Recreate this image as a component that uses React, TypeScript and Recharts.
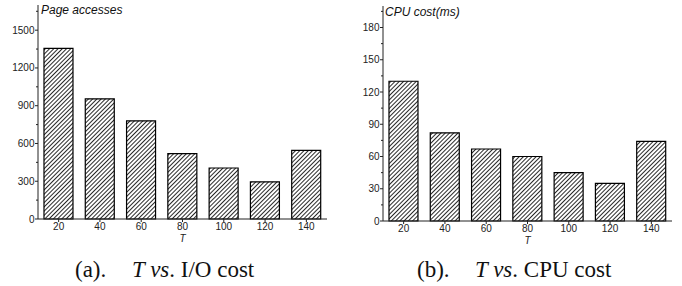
import React from 'react';
import { BarChart, Bar, XAxis, YAxis } from 'recharts';

const categories = ['20', '40', '60', '80', '100', '120', '140'];
const pageAccesses = [1355, 955, 780, 520, 405, 295, 545];
const cpuCost = [130, 82, 67, 60, 45, 35, 74];
const ioTicks = [0, 150, 300, 450, 600, 750, 900, 1050, 1200, 1350, 1500, 1650];
const cpuTicks = [0, 15, 30, 45, 60, 75, 90, 105, 120, 135, 150, 165, 180, 195];

const ioData = categories.map((c, i) => ({ t: c, v: pageAccesses[i] }));
const cpuData = categories.map((c, i) => ({ t: c, v: cpuCost[i] }));

const AXIS = '#222';
const SANS = '"Liberation Sans", Arial, sans-serif';
const SERIF = '"Liberation Serif", "Times New Roman", serif';

const makeYTick = (major: number) => (props: any) => {
  const { x, y, payload } = props;
  const isMajor = payload.value % major === 0;
  return (
    <g>
      <line x1={x} x2={x - (isMajor ? 3 : 2)} y1={y} y2={y} stroke={AXIS} strokeWidth={1} />
      {isMajor && (
        <text x={x - 3.5} y={y} dy="0.35em" textAnchor="end" fontSize={10} fontFamily={SANS} fill="#222">
          {payload.value}
        </text>
      )}
    </g>
  );
};

const Hatch = ({ id }: { id: string }) => (
  <defs>
    <pattern id={id} patternUnits="userSpaceOnUse" width={3} height={3} patternTransform="rotate(45)">
      <rect width={3} height={3} fill="#fff" />
      <line x1={0.5} y1={0} x2={0.5} y2={3} stroke="#111" strokeWidth={0.9} />
    </pattern>
  </defs>
);

const Panel = ({ data, domain, ticks, major, id, margin }: any) => (
  <BarChart width={margin.w} height={250} data={data} margin={margin.m} barCategoryGap="14.5%">
    <Hatch id={id} />
    <XAxis
      dataKey="t"
      height={24}
      interval={0}
      tickSize={3}
      tickMargin={1}
      tick={{ fontSize: 10, fontFamily: SANS, fill: '#222' }}
      stroke={AXIS}
      label={{ value: 'T', position: 'insideBottom', offset: 1, fontSize: 10, fontStyle: 'italic', fontFamily: SANS, fill: '#222' }}
    />
    <YAxis
      type="number"
      domain={domain}
      ticks={ticks}
      width={30}
      interval={0}
      tickSize={0}
      tickMargin={0}
      tickLine={false}
      stroke={AXIS}
      tick={makeYTick(major)}
    />
    <Bar dataKey="v" fill={`url(#${id})`} stroke="#000" strokeWidth={1.2} isAnimationActive={false} />
  </BarChart>
);

export default function App() {
  return (
    <div style={{ position: 'absolute', left: 0, top: 0, width: 682, height: 286, background: '#fff' }}>
      <div style={{ position: 'absolute', left: 0, top: 0 }}>
        <Panel
          data={ioData}
          domain={[0, 1700]}
          ticks={ioTicks}
          major={300}
          id="hatchA"
          margin={{ w: 340, m: { top: 5, right: 13, left: 8, bottom: 7 } }}
        />
      </div>
      <div style={{ position: 'absolute', left: 340, top: 0 }}>
        <Panel
          data={cpuData}
          domain={[0, 200]}
          ticks={cpuTicks}
          major={30}
          id="hatchB"
          margin={{ w: 342, m: { top: 6, right: 10, left: 13, bottom: 5 } }}
        />
      </div>
      <svg width={682} height={286} style={{ position: 'absolute', left: 0, top: 0, pointerEvents: 'none' }}>
        <text x={41} y={14} fontSize={12} fontStyle="italic" fontFamily={SANS} fill="#111">Page accesses</text>
        <text x={385} y={16} fontSize={12} fontStyle="italic" fontFamily={SANS} fill="#111">CPU cost(ms)</text>
        <text x={75} y={277} fontSize={23} fontFamily={SERIF} fill="#111">(a).</text>
        <text x={132} y={277} fontSize={23} fontFamily={SERIF} fill="#111">
          <tspan fontStyle="italic">T vs</tspan>. I/O cost
        </text>
        <text x={417} y={277} fontSize={23} fontFamily={SERIF} fill="#111">(b).</text>
        <text x={475} y={277} fontSize={23} fontFamily={SERIF} fill="#111">
          <tspan fontStyle="italic">T vs</tspan>. CPU cost
        </text>
      </svg>
    </div>
  );
}
